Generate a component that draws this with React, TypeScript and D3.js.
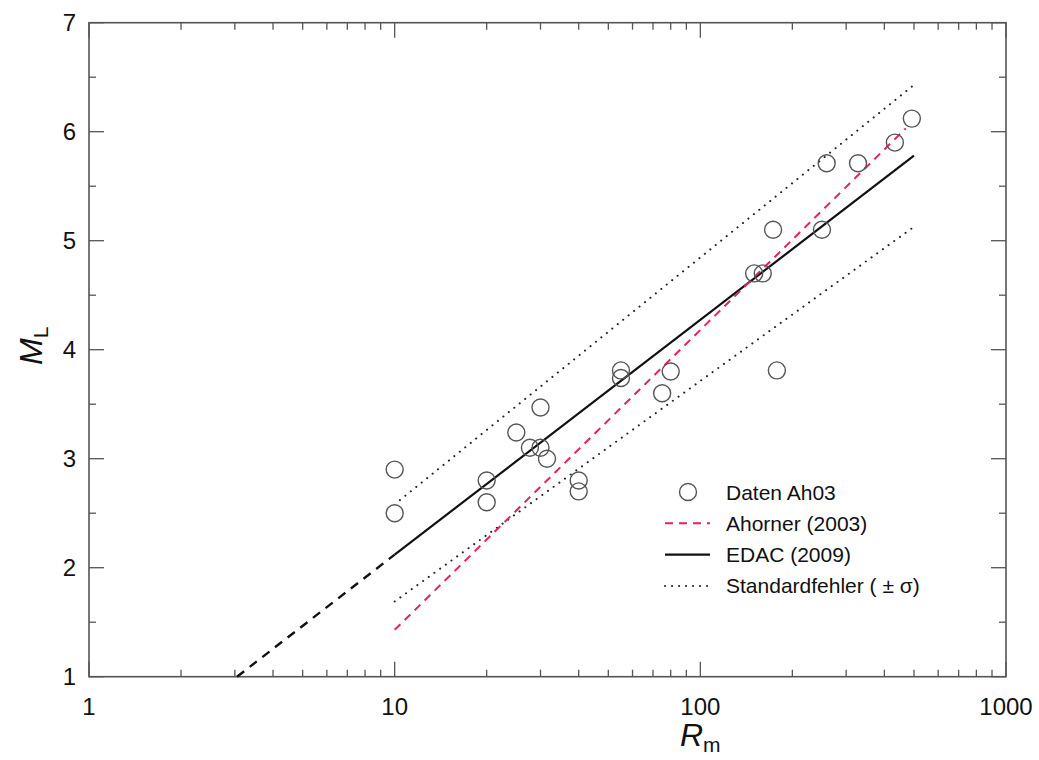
import React from "react";
import * as d3 from "d3";

// Data (R in km, ML)
const dataR = [10, 10, 20, 20, 25, 27.7, 30, 30, 31.5, 40, 40, 55, 55, 75, 80, 150, 160, 173, 178, 250, 259, 328, 433, 492];
const dataM = [2.9, 2.5, 2.8, 2.6, 3.24, 3.1, 3.47, 3.1, 3.0, 2.8, 2.7, 3.81, 3.74, 3.6, 3.8, 4.7, 4.7, 5.1, 3.81, 5.1, 5.71, 5.71, 5.9, 6.12];

// Relations (endpoints)
const edacR = [10, 500];
const edacM = [2.12, 5.78];
const edacExtR = [3.05, 10];
const edacExtM = [1.0, 2.12];
const ahornerR = [10, 470];
const ahornerM = [1.43, 6.03];
const sigmaUpR = [10.4, 495];
const sigmaUpM = [2.62, 6.42];
const sigmaLoR = [10, 490];
const sigmaLoM = [1.69, 5.11];

const xTickLabels = [1, 10, 100, 1000];
const yTickLabels = [1, 2, 3, 4, 5, 6, 7];

const legendLabels = ["Daten Ah03", "Ahorner (2003)", "EDAC (2009)", "Standardfehler ( \u00B1 \u03C3)"];

export default function App() {
  const W = 1039, H = 760;
  const L = 89, R = 1006, T = 22.7, B = 676.7;
  const x = d3.scaleLog().domain([1, 1000]).range([L, R]);
  const y = d3.scaleLinear().domain([1, 7]).range([B, T]);
  const font = "'Liberation Sans', Arial, sans-serif";
  const frame = "#555";
  const red = "#e8215e";

  const line = (rs: number[], ms: number[]) =>
    d3.line<number>().x((_, i) => x(rs[i])).y((m) => y(m))(ms) as string;

  const minorX: number[] = [];
  [1, 10, 100].forEach((dec) => {
    for (let k = 2; k <= 9; k++) minorX.push(dec * k);
  });
  const minorY = d3.range(1.5, 7, 1);

  const MAJ = 15, MIN = 7;
  const legX = 688, legY = 492, legDy = 31.3;

  return (
    <svg width={W} height={H} style={{ position: "absolute", left: 0, top: 0, background: "#fff" }} fontFamily={font}>
      <rect x={0} y={0} width={W} height={H} fill="#fff" />
      {/* ticks */}
      <g stroke={frame} strokeWidth={1.3}>
        {xTickLabels.map((v) => (
          <g key={"xm" + v}>
            <line x1={x(v)} x2={x(v)} y1={B} y2={B - MAJ} />
            <line x1={x(v)} x2={x(v)} y1={T} y2={T + MAJ} />
          </g>
        ))}
        {minorX.map((v) => (
          <g key={"xn" + v}>
            <line x1={x(v)} x2={x(v)} y1={B} y2={B - MIN} />
            <line x1={x(v)} x2={x(v)} y1={T} y2={T + MIN} />
          </g>
        ))}
        {yTickLabels.map((v) => (
          <g key={"ym" + v}>
            <line x1={L} x2={L + MAJ} y1={y(v)} y2={y(v)} />
            <line x1={R} x2={R - MAJ} y1={y(v)} y2={y(v)} />
          </g>
        ))}
        {minorY.map((v) => (
          <g key={"yn" + v}>
            <line x1={L} x2={L + MIN} y1={y(v)} y2={y(v)} />
            <line x1={R} x2={R - MIN} y1={y(v)} y2={y(v)} />
          </g>
        ))}
      </g>
      <rect x={L} y={T} width={R - L} height={B - T} fill="none" stroke={frame} strokeWidth={1.6} />

      {/* tick labels */}
      {xTickLabels.map((v) => (
        <text key={"xl" + v} x={x(v)} y={715} fontSize={24} textAnchor="middle" fill="#111">
          {v}
        </text>
      ))}
      {yTickLabels.map((v) => (
        <text key={"yl" + v} x={76} y={y(v) + 8.5} fontSize={24} textAnchor="end" fill="#111">
          {v}
        </text>
      ))}

      {/* axis titles */}
      <text x={680} y={746} fontSize={32} fill="#111">
        <tspan fontStyle="italic">R</tspan>
        <tspan fontSize={21} dy={6}>m</tspan>
      </text>
      <text transform="translate(42,365) rotate(-90)" fontSize={32} fill="#111">
        <tspan fontStyle="italic">M</tspan>
        <tspan fontSize={21} dy={6}>L</tspan>
      </text>

      {/* lines */}
      <path d={line(sigmaUpR, sigmaUpM)} fill="none" stroke="#222" strokeWidth={2} strokeDasharray="0.1 6.9" strokeLinecap="round" />
      <path d={line(sigmaLoR, sigmaLoM)} fill="none" stroke="#222" strokeWidth={2} strokeDasharray="0.1 6.9" strokeLinecap="round" />
      <path d={line(edacExtR, edacExtM)} fill="none" stroke="#111" strokeWidth={2.4} strokeDasharray="9 7" />
      <path d={line(edacR, edacM)} fill="none" stroke="#111" strokeWidth={2.2} />
      <path d={line(ahornerR, ahornerM)} fill="none" stroke={red} strokeWidth={2} strokeDasharray="8 6" />

      {/* data */}
      {dataR.map((r, i) => (
        <circle key={"p" + i} cx={x(r)} cy={y(dataM[i])} r={8.5} fill="none" stroke="#555" strokeWidth={1.4} />
      ))}

      {/* legend */}
      <g>
        <circle cx={legX} cy={legY} r={8.5} fill="none" stroke="#555" strokeWidth={1.4} />
        <line x1={665} x2={710} y1={legY + legDy} y2={legY + legDy} stroke={red} strokeWidth={2} strokeDasharray="8 6" />
        <line x1={665} x2={710} y1={legY + 2 * legDy} y2={legY + 2 * legDy} stroke="#111" strokeWidth={2.2} />
        <line x1={665} x2={710} y1={legY + 3 * legDy} y2={legY + 3 * legDy} stroke="#222" strokeWidth={2} strokeDasharray="0.1 6.9" strokeLinecap="round" />
        {legendLabels.map((t, i) => (
          <text key={"lg" + i} x={726} y={legY + i * legDy + 7.5} fontSize={21} fill="#111">
            {t}
          </text>
        ))}
      </g>
    </svg>
  );
}
